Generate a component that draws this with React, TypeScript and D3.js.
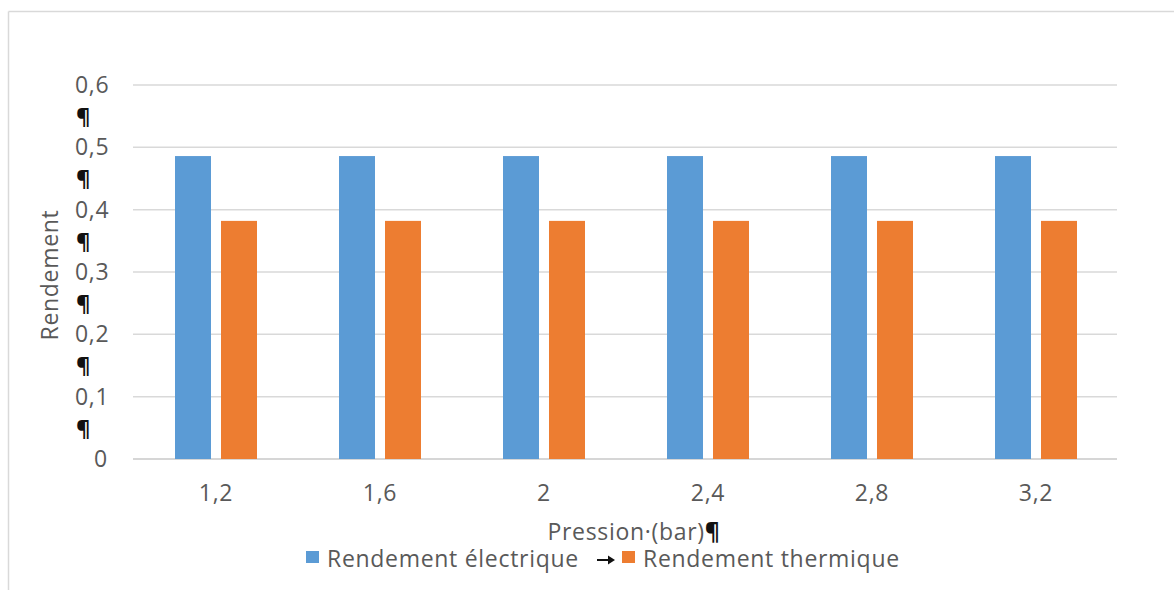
import React from "react";
import * as d3 from "d3";

const categories = ["1,2", "1,6", "2", "2,4", "2,8", "3,2"];
const seriesNames = ["Rendement électrique", "Rendement thermique"];
const electrique = [0.486, 0.486, 0.486, 0.486, 0.486, 0.486];
const thermique = [0.382, 0.382, 0.382, 0.382, 0.382, 0.382];
const yTicks = [0, 0.1, 0.2, 0.3, 0.4, 0.5, 0.6];
const yTickLabels = ["0", "0,1", "0,2", "0,3", "0,4", "0,5", "0,6"];
const colors = ["#5b9bd5", "#ed7d31"];

const W = 1174;
const H = 590;
const plot = { left: 133, right: 1117, top: 85, bottom: 459 };
const FONT = "'Open Sans', 'Noto Sans', sans-serif";
const TEXT = "#595959";
const FS = 23;
const LS = 0.7;

export default function App() {
  const x0 = d3
    .scaleBand<string>()
    .domain(categories)
    .range([plot.left + 1, plot.right + 1])
    .paddingInner(0.5)
    .paddingOuter(0.25);
  const x1 = d3
    .scaleBand<string>()
    .domain(seriesNames)
    .range([0, x0.bandwidth()])
    .paddingInner(10 / 46);
  const y = d3.scaleLinear().domain([0, 0.6]).range([plot.bottom, plot.top]);
  const values = [electrique, thermique];

  const midTicks = yTicks.slice(0, -1).map((t, i) => (t + yTicks[i + 1]) / 2);

  return (
    <svg
      width={W}
      height={H}
      style={{ position: "absolute", left: 0, top: 0, background: "#fff" }}
      fontFamily={FONT}
    >
      <rect x={0} y={0} width={W} height={H} fill="#fff" />
      {/* outer frame */}
      <line x1={8.5} y1={11.5} x2={W} y2={11.5} stroke="#d9d9d9" strokeWidth={1.5} />
      <line x1={8.5} y1={11.5} x2={8.5} y2={H} stroke="#d9d9d9" strokeWidth={1.5} />

      {/* gridlines */}
      {yTicks.map((t, i) => (
        <line
          key={"g" + i}
          x1={plot.left}
          x2={plot.right}
          y1={y(t)}
          y2={y(t)}
          stroke={t === 0 ? "#c8c8c8" : "#d9d9d9"}
          strokeWidth={1.5}
        />
      ))}

      {/* y tick labels */}
      {yTicks.map((t, i) => (
        <text
          key={"yl" + i}
          x={t === 0 ? 94 : 75}
          y={y(t)}
          dy="0.35em"
          fontSize={FS}
          letterSpacing={LS}
          fill={TEXT}
        >
          {yTickLabels[i]}
        </text>
      ))}
      {midTicks.map((t, i) => (
        <text
          key={"p" + i}
          x={76}
          y={y(t)}
          dy="0.35em"
          fontSize={22}
          fontWeight="bold"
          fill="#111"
        >
          ¶
        </text>
      ))}

      {/* y axis title */}
      <text
        transform={`translate(58, 275) rotate(-90)`}
        textAnchor="middle"
        fontSize={FS}
        letterSpacing={LS}
        fill={TEXT}
      >
        Rendement
      </text>

      {/* bars */}
      {categories.map((c, ci) => (
        <g key={"c" + c} transform={`translate(${x0(c)},0)`}>
          {seriesNames.map((s, si) => (
            <rect
              key={s}
              x={x1(s)}
              y={y(values[si][ci])}
              width={x1.bandwidth()}
              height={y(0) - y(values[si][ci])}
              fill={colors[si]}
            />
          ))}
        </g>
      ))}

      {/* x tick labels */}
      {categories.map((c) => (
        <text
          key={"xl" + c}
          x={(x0(c) as number) + x0.bandwidth() / 2}
          y={501}
          textAnchor="middle"
          fontSize={FS}
          letterSpacing={LS}
          fill={TEXT}
        >
          {c}
        </text>
      ))}

      {/* x axis title */}
      <text x={634} y={540} textAnchor="middle" fontSize={FS} letterSpacing={LS} fill={TEXT}>
        Pression·(bar)
        <tspan fill="#111" fontWeight="bold">¶</tspan>
      </text>

      {/* legend */}
      <rect x={306} y={551} width={13} height={12} fill={colors[0]} />
      <text x={327} y={567} fontSize={FS} letterSpacing={LS} fill={TEXT}>
        {seriesNames[0]}
      </text>
      <line x1={597} y1={560} x2={609} y2={560} stroke="#111" strokeWidth={2} />
      <path d="M608,555.5 L615,560 L608,564.5 Z" fill="#111" />
      <rect x={622} y={551} width={13} height={12} fill={colors[1]} />
      <text x={643} y={567} fontSize={FS} letterSpacing={LS} fill={TEXT}>
        {seriesNames[1]}
      </text>
    </svg>
  );
}
